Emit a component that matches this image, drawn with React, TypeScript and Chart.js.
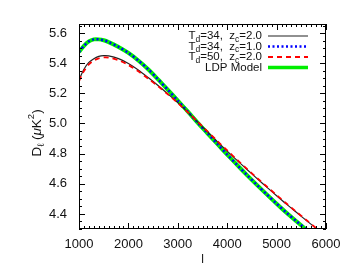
import React, { useEffect, useRef } from "react";
import { Chart, registerables } from "chart.js";

Chart.register(...registerables);

const multipoles = [1000, 1100, 1200, 1300, 1400, 1500, 1600, 1800, 2000, 2200, 2400, 2600, 2800, 3000, 3200, 3400, 3600, 3800, 4000, 4200, 4400, 4600, 4800, 5000, 5200, 5400, 5600, 5800];
const td34zc20 = [5.290, 5.360, 5.405, 5.430, 5.445, 5.450, 5.448, 5.430, 5.398, 5.355, 5.305, 5.252, 5.196, 5.138, 5.075, 5.010, 4.945, 4.880, 4.817, 4.755, 4.695, 4.636, 4.578, 4.521, 4.465, 4.411, 4.357, 4.304];
const td34zc10 = [5.475, 5.515, 5.545, 5.558, 5.558, 5.552, 5.540, 5.508, 5.468, 5.418, 5.360, 5.293, 5.223, 5.152, 5.080, 5.006, 4.935, 4.864, 4.794, 4.725, 4.658, 4.593, 4.530, 4.468, 4.408, 4.352, 4.297, 4.244];
const td50zc20 = [5.282, 5.348, 5.392, 5.418, 5.432, 5.438, 5.437, 5.420, 5.388, 5.346, 5.298, 5.247, 5.193, 5.136, 5.075, 5.012, 4.948, 4.884, 4.821, 4.759, 4.699, 4.640, 4.582, 4.525, 4.469, 4.414, 4.360, 4.306];
const ldpModel = [5.475, 5.515, 5.545, 5.558, 5.558, 5.552, 5.540, 5.508, 5.468, 5.418, 5.360, 5.293, 5.223, 5.152, 5.080, 5.006, 4.935, 4.864, 4.794, 4.725, 4.658, 4.593, 4.530, 4.468, 4.408, 4.352, 4.297, 4.244];

const xTicks = [1000, 2000, 3000, 4000, 5000, 6000];
const yTicks = [4.4, 4.6, 4.8, 5.0, 5.2, 5.4, 5.6];

const FONT = "'Liberation Sans', Arial, sans-serif";

type Piece = { t: string; sub?: boolean; sup?: boolean; italic?: boolean };

const legendEntries: { pieces: Piece[]; color: string; width: number; dash: number[] }[] = [
  { pieces: [{ t: "T" }, { t: "d", sub: true }, { t: "=34,  z" }, { t: "c", sub: true }, { t: "=2.0" }], color: "#222222", width: 1.2, dash: [] },
  { pieces: [{ t: "T" }, { t: "d", sub: true }, { t: "=34,  z" }, { t: "c", sub: true }, { t: "=1.0" }], color: "#0000ff", width: 2.5, dash: [2, 2.5] },
  { pieces: [{ t: "T" }, { t: "d", sub: true }, { t: "=50,  z" }, { t: "c", sub: true }, { t: "=2.0" }], color: "#ff0000", width: 1.8, dash: [5, 4] },
  { pieces: [{ t: "LDP Model" }], color: "#00ee00", width: 3.5, dash: [] },
];

function drawPieces(ctx: CanvasRenderingContext2D, pieces: Piece[], xRight: number, y: number, size: number, subSize: number, align: "right" | "center") {
  const fontFor = (p: Piece) => `${p.italic ? "italic " : ""}${p.sub || p.sup ? subSize : size}px ${FONT}`;
  let total = 0;
  for (const p of pieces) {
    ctx.font = fontFor(p);
    total += ctx.measureText(p.t).width;
  }
  let x = align === "right" ? xRight - total : xRight - total / 2;
  ctx.textAlign = "left";
  ctx.textBaseline = "middle";
  for (const p of pieces) {
    ctx.font = fontFor(p);
    const dy = p.sub ? size * 0.3 : p.sup ? -size * 0.38 : 0;
    ctx.fillText(p.t, x, y + dy);
    x += ctx.measureText(p.t).width;
  }
}

const framePlugin = {
  id: "frameAndDecor",
  afterDatasetsDraw(chart: any) {
    const { ctx, chartArea } = chart;
    const xs = chart.scales.x;
    const ys = chart.scales.y;
    const { left, right, top, bottom } = chartArea;
    ctx.save();
    ctx.strokeStyle = "#000";
    ctx.lineWidth = 1;
    ctx.setLineDash([]);
    ctx.strokeRect(left + 0.5, top + 0.5, right - left - 1, bottom - top - 1);
    ctx.beginPath();
    for (let v = 1000; v <= 6000; v += 100) {
      const px = Math.round(xs.getPixelForValue(v)) + 0.5;
      const major = v % 1000 === 0;
      const len = major ? 6 : 3;
      ctx.moveTo(px, bottom);
      ctx.lineTo(px, bottom - len);
      ctx.moveTo(px, top);
      ctx.lineTo(px, top + len);
    }
    for (let i = 0; i <= 27; i++) {
      const v = 4.3 + i * 0.05;
      if (v > 5.66) break;
      const py = Math.round(ys.getPixelForValue(v)) + 0.5;
      const major = yTicks.some((t) => Math.abs(t - v) < 1e-6);
      const len = major ? 6 : 3;
      ctx.moveTo(left, py);
      ctx.lineTo(left + len, py);
      ctx.moveTo(right, py);
      ctx.lineTo(right - len, py);
    }
    ctx.stroke();

    // x tick labels
    ctx.fillStyle = "#111";
    ctx.font = `13px ${FONT}`;
    ctx.textAlign = "center";
    ctx.textBaseline = "middle";
    xTicks.forEach((v) => {
      ctx.fillText(String(v), xs.getPixelForValue(v), 244);
    });

    // legend
    const rowY = [36, 46.5, 57, 67.5];
    legendEntries.forEach((e, i) => {
      ctx.fillStyle = "#111";
      drawPieces(ctx, e.pieces, 262, rowY[i], 11.5, 8.5, "right");
      ctx.beginPath();
      ctx.strokeStyle = e.color;
      ctx.lineWidth = e.width;
      ctx.setLineDash(e.dash);
      ctx.moveTo(268, rowY[i]);
      ctx.lineTo(308, rowY[i]);
      ctx.stroke();
    });
    ctx.setLineDash([]);

    // x axis title
    ctx.fillStyle = "#111";
    drawPieces(ctx, [{ t: "l" }], (left + right) / 2, 260, 12, 9, "center");

    // y axis title
    ctx.save();
    ctx.translate(37, 133);
    ctx.rotate(-Math.PI / 2);
    ctx.fillStyle = "#111";
    drawPieces(
      ctx,
      [{ t: "D" }, { t: "ℓ", sub: true }, { t: " (" }, { t: "μ", italic: true }, { t: "K" }, { t: "2", sup: true }, { t: ")" }],
      0,
      0,
      13.5,
      9.5,
      "center"
    );
    ctx.restore();
    ctx.restore();
  },
};

export default function App() {
  const ref = useRef<HTMLCanvasElement | null>(null);
  useEffect(() => {
    if (!ref.current) return;
    const mk = (ys: number[]) => multipoles.map((x, i) => ({ x, y: ys[i] }));
    const chart = new Chart(ref.current, {
      type: "line",
      data: {
        datasets: [
          { label: "Td=50, zc=2.0", data: mk(td50zc20), borderColor: "#ff0000", borderWidth: 1.8, borderDash: [5, 4], pointRadius: 0, tension: 0.3, order: 0 },
          { label: "Td=34, zc=2.0", data: mk(td34zc20), borderColor: "#222222", borderWidth: 1.2, pointRadius: 0, tension: 0.3, order: 1 },
          { label: "Td=34, zc=1.0", data: mk(td34zc10), borderColor: "#0000ff", borderWidth: 2.5, borderDash: [2, 2.5], pointRadius: 0, tension: 0.3, order: 2 },
          { label: "LDP Model", data: mk(ldpModel), borderColor: "#00ee00", borderWidth: 4, pointRadius: 0, tension: 0.3, order: 3 },
        ],
      },
      options: {
        responsive: false,
        animation: false,
        events: [],
        layout: { padding: { top: 24, right: 24, left: 0, bottom: 0 } },
        plugins: { legend: { display: false }, tooltip: { enabled: false } },
        scales: {
          x: {
            type: "linear",
            min: 1000,
            max: 6000,
            grid: { display: false },
            border: { display: false },
            afterBuildTicks: (s: any) => {
              s.ticks = xTicks.map((v) => ({ value: v }));
            },
            afterFit: (s: any) => {
              s.height = 51;
            },
            ticks: { display: false },
          },
          y: {
            type: "linear",
            min: 4.3,
            max: 5.66,
            grid: { display: false },
            border: { display: false },
            afterBuildTicks: (s: any) => {
              s.ticks = yTicks.map((v) => ({ value: v }));
            },
            afterFit: (s: any) => {
              s.width = 79;
            },
            ticks: {
              padding: 4,
              font: { family: FONT, size: 13 },
              color: "#111",
              callback: (v: any) => Number(v).toFixed(1),
            },
          },
        },
      },
      plugins: [framePlugin],
    });
    return () => chart.destroy();
  }, []);
  return (
    <div style={{ position: "fixed", left: 0, top: 0, width: 350, height: 280, background: "#fff" }}>
      <canvas ref={ref} width={350} height={280} style={{ display: "block" }} />
    </div>
  );
}
